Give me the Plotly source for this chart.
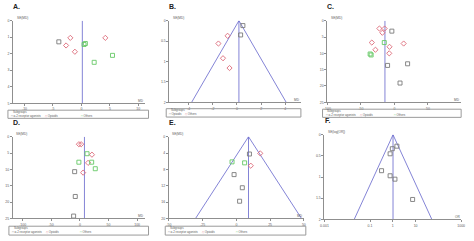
import math
import plotly.graph_objects as go

W, H = 474, 241

# ---------------- data ----------------
# Panel A  (MD, SE(MD))
A_a2_md = [-3.97]
A_a2_se = [1.28]
A_op_md = [-1.95, -2.7, -1.15, 4.2]
A_op_se = [1.04, 1.5, 1.88, 1.04]
A_ot_md = [0.46, 0.69, 5.46, 2.24]
A_ot_se = [1.44, 1.38, 2.1, 2.52]
A_pooled = 0.16

# Panel B
B_op_md = [0.49, 0.30]
B_op_se = [0.12, 0.35]
B_ot_md = [-0.78, -1.54, -1.16, -0.62]
B_ot_se = [0.37, 0.56, 0.92, 1.16]
B_pooled = 0.16

# Panel C
C_a2_md = [-3.9, -10.3, 19.6, 8.3]
C_a2_se = [3.2, 13.7, 13.2, 19.1]
C_op_md = [-22.5, -14.7, -18.1, -33.8, 13.7, -28.4, -7.4, -7.8]
C_op_se = [2.4, 2.4, 3.7, 6.7, 7.0, 8.9, 8.0, 10.0]
C_ot_md = [-15.2, -36.3, -34.8]
C_ot_se = [6.7, 10.2, 10.5]
C_pooled = -14.2

# Panel D
D_a2_md = [-9.1, -8.0, -10.9]
D_a2_se = [10.7, 18.3, 24.3]
D_op_md = [-1.7, 2.3, 21.1, 14.3, 5.7]
D_op_se = [2.3, 2.3, 5.5, 8.0, 11.0]
D_ot_md = [12.6, -1.7, 20.6, 26.9]
D_ot_se = [5.2, 7.8, 7.8, 9.8]
D_pooled = 8.0

# Panel E
E_a2_md = [9.7, -1.7, 4.4, 2.4]
E_a2_se = [4.24, 9.28, 12.5, 15.8]
E_op_md = [17.7, 10.7]
E_op_se = [4.08, 7.1]
E_ot_md = [-3.2, 6.1]
E_ot_se = [6.16, 6.4]
E_pooled = 9.0

# Panel F  (OR, SE(log[OR]))
F_or = [1.51, 0.95, 0.76, 0.32, 0.76, 1.24, 7.4]
F_se = [0.27, 0.33, 0.45, 0.85, 0.97, 1.05, 1.53]
F_pooled = 1.02

# tick labels
A_ticks = [-10, -5, 0, 5, 10]
B_ticks = [-4, -2, 0, 2, 4]
C_ticks = [-100, -50, 0, 50, 100]
D_ticks = [-100, -50, 0, 50, 100]
E_ticks = [-50, -25, 0, 25, 50]
F_ticks = [0.001, 0.1, 1, 10, 1000]
F_ticktext = ["0.001", "0.1", "1", "10", "1000"]
A_yticks = [0, 1, 2, 3, 4, 5]
B_yticks = [0, 0.5, 1, 1.5, 2]
C_yticks = [0, 5, 10, 15, 20, 25]
D_yticks = [0, 5, 10, 15, 20, 25]
E_yticks = [0, 4, 8, 12, 16, 20]
F_yticks = [0, 0.5, 1, 1.5, 2]

# ---------------- styles ----------------
GRAY = "#7a7a7a"
RED = "#dc6a78"
GREEN = "#66c866"
LINE = "#6464cc"
AX = "#8f8f8f"
TXT = "#5a5a5a"


def px(x):
    return x / W


def py(y):
    return 1 - y / H


panels = [
    dict(n=1, lab="A.", box=(9.3, 143, 19, 103), xr=[-12, 11.1], ymax=5, xt=A_ticks, yt=A_yticks,
         ytitle="SE(MD)", xtitle="MD", pooled=A_pooled, funnel=False, log=False,
         groups=[(A_a2_md, A_a2_se, "square-open", GRAY), (A_op_md, A_op_se, "diamond-open", RED),
                 (A_ot_md, A_ot_se, "square-open", GREEN)],
         legend=dict(box=(4, 147, 110, 118.3),
                     items=[(5, "□", GRAY, "α-2 receptor agonists"), (40, "◇", RED, "Opioids"),
                            (76, "□", GREEN, "Others")])),
    dict(n=2, lab="B.", box=(168.3, 302, 19, 102), xr=[-5.6, 5.3], ymax=2, xt=B_ticks, yt=B_yticks,
         ytitle="SE(MD)", xtitle="MD", pooled=B_pooled, funnel=True, log=False,
         groups=[(B_op_md, B_op_se, "square-open", GRAY), (B_ot_md, B_ot_se, "diamond-open", RED)],
         legend=dict(box=(165, 302, 108.5, 117),
                     items=[(166, "□", GRAY, "Opioids"), (182, "◇", RED, "Others")])),
    dict(n=3, lab="C.", box=(329, 465, 19, 102), xr=[-100, 99.5], ymax=25, xt=C_ticks, yt=C_yticks,
         ytitle="SE(MD)", xtitle="MD", pooled=C_pooled, funnel=False, log=False,
         groups=[(C_a2_md, C_a2_se, "square-open", GRAY), (C_op_md, C_op_se, "diamond-open", RED),
                 (C_ot_md, C_ot_se, "square-open", GREEN)],
         legend=dict(box=(324, 465, 109, 117.3),
                     items=[(325, "□", GRAY, "α-2 receptor agonists"), (360, "◇", RED, "Opioids"),
                            (395, "□", GREEN, "Others")])),
    dict(n=4, lab="D.", box=(9, 143, 137, 220), xr=[-117, 113], ymax=25, xt=D_ticks, yt=D_yticks,
         ytitle="SE(MD)", xtitle="MD", pooled=D_pooled, funnel=False, log=False,
         groups=[(D_a2_md, D_a2_se, "square-open", GRAY), (D_op_md, D_op_se, "diamond-open", RED),
                 (D_ot_md, D_ot_se, "square-open", GREEN)],
         legend=dict(box=(5, 147, 228, 237),
                     items=[(6, "□", GRAY, "α-2 receptor agonists"), (41, "◇", RED, "Opioids"),
                            (75, "□", GREEN, "Others")])),
    dict(n=5, lab="E.", box=(167.7, 305, 137, 220), xr=[-50, 50], ymax=20, xt=E_ticks, yt=E_yticks,
         ytitle="SE(MD)", xtitle="MD", pooled=E_pooled, funnel=True, log=False,
         groups=[(E_a2_md, E_a2_se, "square-open", GRAY), (E_op_md, E_op_se, "diamond-open", RED),
                 (E_ot_md, E_ot_se, "square-open", GREEN)],
         legend=dict(box=(164, 307, 228, 237),
                     items=[(165, "□", GRAY, "α-2 receptor agonists"), (199, "◇", RED, "Opioids"),
                            (234, "□", GREEN, "Others")])),
    dict(n=6, lab="F.", box=(326, 465, 135, 221), xr=[-3, 3], ymax=2, xt=F_ticks, yt=F_yticks,
         xtt=F_ticktext, ytitle="SE(log[OR])", xtitle="OR", pooled=F_pooled, funnel=True, log=True,
         groups=[(F_or, F_se, "square-open", GRAY)], legend=None),
]

fig = go.Figure()
annotations = []
shapes = []
lay = {}

for p in panels:
    n = p["n"]
    xa = "x" if n == 1 else f"x{n}"
    ya = "y" if n == 1 else f"y{n}"
    x0, x1, yt_, yb_ = p["box"]
    ymax = p["ymax"]
    pooled = p["pooled"]

    # funnel / pooled line
    if p["funnel"]:
        if p["log"]:
            lo = pooled * math.exp(-1.96 * ymax)
            hi = pooled * math.exp(1.96 * ymax)
        else:
            lo = pooled - 1.96 * ymax
            hi = pooled + 1.96 * ymax
        fig.add_trace(go.Scatter(x=[lo, pooled, hi], y=[ymax, 0, ymax], mode="lines",
                                 line=dict(color=LINE, width=0.8), xaxis=xa, yaxis=ya,
                                 showlegend=False, hoverinfo="skip"))
    fig.add_trace(go.Scatter(x=[pooled, pooled], y=[0, ymax], mode="lines",
                             line=dict(color=LINE, width=0.8), xaxis=xa, yaxis=ya,
                             showlegend=False, hoverinfo="skip"))
    for (xs, ys, sym, col) in p["groups"]:
        fig.add_trace(go.Scatter(x=xs, y=ys, mode="markers",
                                 marker=dict(symbol=sym, size=4, color=col, line=dict(width=0.9, color=col)),
                                 xaxis=xa, yaxis=ya, showlegend=False, cliponaxis=False))

    xkey = "xaxis" if n == 1 else f"xaxis{n}"
    ykey = "yaxis" if n == 1 else f"yaxis{n}"
    lay[xkey] = dict(domain=[px(x0), px(x1)], range=p["xr"], type="log" if p["log"] else "linear",
                     anchor=ya, showline=True, linecolor=AX, linewidth=1, ticks="outside",
                     ticklen=2, tickcolor=AX, tickfont=dict(size=3.5, color=TXT), showgrid=False,
                     zeroline=False, tickvals=p["xt"], ticktext=p.get("xtt", [str(t) for t in p["xt"]]))
    lay[ykey] = dict(domain=[py(yb_), py(yt_)], range=[ymax, 0], anchor=xa, showline=True,
                     linecolor=AX, linewidth=1, ticks="outside", ticklen=2, tickcolor=AX,
                     tickfont=dict(size=3.5, color=TXT), showgrid=False, zeroline=False,
                     tickvals=p["yt"], ticktext=[str(t) for t in p["yt"]])

    # panel label
    annotations.append(dict(text=f"<b>{p['lab']}</b>", x=px(x0 - 2), y=py(yt_ - 14), xref="paper",
                            yref="paper", xanchor="left", yanchor="middle", showarrow=False,
                            font=dict(size=7, color="#222222")))
    # axis titles
    annotations.append(dict(text=p["ytitle"], x=px(x0 + 1.5), y=py(yt_ - 2.5), xref="paper",
                            yref="paper", xanchor="left", yanchor="middle", showarrow=False,
                            font=dict(size=3.2, color=TXT)))
    annotations.append(dict(text=p["xtitle"], x=px(x1 + 1), y=py(yb_ - 2.5), xref="paper",
                            yref="paper", xanchor="right", yanchor="middle", showarrow=False,
                            font=dict(size=3.2, color=TXT)))

    lg = p["legend"]
    if lg:
        bx0, bx1, by0, by1 = lg["box"]
        shapes.append(dict(type="rect", xref="paper", yref="paper", x0=px(bx0), x1=px(bx1),
                           y0=py(by1), y1=py(by0), line=dict(color="#9a9a9a", width=1)))
        annotations.append(dict(text="Subgroups", x=px(bx0 + 3), y=py(by0 + 1.8), xref="paper",
                                yref="paper", xanchor="left", yanchor="middle", showarrow=False,
                                font=dict(size=2.8, color=TXT)))
        for (ix, sym, col, name) in lg["items"]:
            annotations.append(dict(text=f"<span style='color:{col}'>{sym}</span> {name}",
                                    x=px(ix), y=py(by0 + 5.6), xref="paper", yref="paper",
                                    xanchor="left", yanchor="middle", showarrow=False,
                                    font=dict(size=2.9, color=TXT)))

fig.update_layout(width=W, height=H, margin=dict(l=0, r=0, t=0, b=0), plot_bgcolor="white",
                  paper_bgcolor="white", showlegend=False, annotations=annotations, shapes=shapes,
                  font=dict(family="Liberation Sans, Arial, sans-serif"), **lay)

fig.write_html("out.html")
